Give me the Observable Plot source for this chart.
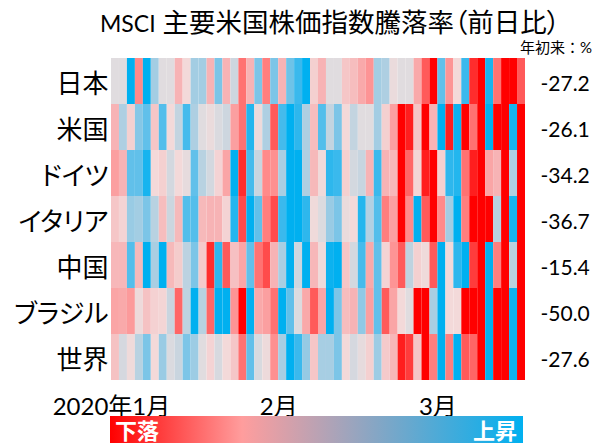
<!DOCTYPE html>
<html lang="ja">
<head>
<meta charset="utf-8">
<script src="https://cdn.jsdelivr.net/npm/d3@7"></script>
<script src="https://cdn.jsdelivr.net/npm/@observablehq/plot@0.6"></script>
<style>
  html, body { margin: 0; padding: 0; background: #fff; overflow: hidden; }
  body { width: 606px; height: 443px; font-family: Lato, "Noto Sans CJK JP", sans-serif; color: #000; }
  #title { height: 37px; line-height: 44px; font-size: 26.5px; padding-left: 100px; white-space: nowrap; font-feature-settings: "palt"; }
  #title .latin { font-size: 23px; }
  #note { height: 20px; line-height: 20px; font-size: 15px; text-align: right; padding-right: 14px; }
  #chart svg { display: block; overflow: visible; }
  .kana-labels { font-feature-settings: "palt"; }
  #legend { position: relative; margin-left: 110px; width: 413px; height: 27px; overflow: hidden;
    background: linear-gradient(90deg, #ff0000 0%, #ff9d9d 32%, #00b0f0 100%);
    color: #fff; font-weight: 700; font-size: 22px; line-height: 30px; display: flex; justify-content: space-between; padding: 0 6px 0 5px; box-sizing: border-box; }
</style>
</head>
<body>
<div id="title"><span class="latin">MSCI</span> 主要米国株価指数騰落率（前日比）</div>
<div id="note">年初来：%</div>
<div id="chart"></div>
<div id="legend"><span>下落</span><span>上昇</span></div>
<script>
// Rows top to bottom; values are estimated positions on the colour scale (-10 = full red, +10 = full blue)
const countries = ["日本", "米国", "ドイツ", "イタリア", "中国", "ブラジル", "世界"];
const ytd = ["-27.2", "-26.1", "-34.2", "-36.7", "-15.4", "-50.0", "-27.6"];
const monthTicks = [0, 21, 41];
const monthLabels = ["2020年1月", "2月", "3月"];

const japan = [0,0,10,-5,10,3,0,0,-3,-1,3,3,-3,5,-3,1,-6,-3,5,-5.5,5,-3,5.5,7.5,10,-1.5,-3,0,0,-2,-2.5,-3.5,-4.5,3,2.5,-0.5,0,0,-3.5,-7,-10,6,-4.5,-1,7.5,-8.5,-10,9,-6,-10,-10,-7];
const usa = [-3,2.5,-1.5,4.5,6,-2,6.5,-1,1.5,7,2.5,0,-0.5,0.3,1,-4,-6,8.5,-0.7,2.5,-7,7,10,8,2.5,-2.5,6.5,1.5,5,-1,1.5,0,0,3,-1.5,-4,-10,-9,-2,-10,-3,10,-9,9.5,-10,-6,-10,10,-10,-10,9,-10];
const germany = [-4,-3,6,6,9,-1,-1.5,0.7,-1,-0.3,6,2,0.7,-1.3,-3.7,10,-8.5,7,1.2,-5,-4.7,2.7,10,10,2.5,-2.7,-0.8,8,7.5,-1.5,0.7,1.3,-3,7.5,-3,-2.8,-10,-6.5,-1.2,-9,-10,-1.5,8,8.5,-6,-9,-10,-3.7,-3,-10,2.5,-10];
const italy = [-2,-1.3,3.5,3,5,2,-2.5,1.1,-2.7,6.5,6.5,-2.7,-3,-3,-1.3,8.5,-7.5,10,6,-5.5,-7.5,7.5,10,10,8,-0.8,0.2,3.5,5,-0.5,-1,8.5,2.3,6.5,-5.5,-4,-10,-5,10,-7,-10,-5,3,10,-5.5,-10,-10,-10,2,-10,9,-10];
const china = [-2.8,-2.8,6.5,-2.7,10,2.7,10,-2.7,-1.7,1.8,5,-1.8,-8.5,8,-7,-2.3,-3.7,6,-6,-7.5,-3,2.7,10,1,10,-2.8,-0.8,9.5,10,-2,0.7,7,-3.5,6,-1.3,-4.5,-7,1.7,-1.5,-0.8,-7,10,-1,8,10,-8,-10,10,-5.5,-10,2,-10];
const brazil = [-3.7,-3.5,-4.2,-0.7,-2.2,-1.4,-1.2,1.2,-6.5,1.7,10,2,-6.5,10,10,-4.5,-10,10,-3.5,-4,-6,10,6,0.2,-3.5,-7,-3.7,10,5,-2.5,-3,4,-4,6,-7,-3.7,-1,0,-10,-10,2.7,10,-1,-1,-10,-10,-10,10,-10,-10,9.5,-10];
const world = [-2.2,0.6,-0.8,2,5,-1,3.5,0.3,1.2,5,3.3,0,-1.3,0.5,-1,-2,-6,6,0.4,-0.7,-4.7,2.8,10,7.5,3.7,-2,2.8,2.8,5,-1,0.6,-0.3,-1.5,3.3,-1.8,-2.8,-9,-8,-2,-10,-5.5,10,-5.5,10,-7,-6.5,-10,10,-10,-10,9.5,-10];

const series = [japan, usa, germany, italy, china, brazil, world];
const cells = series.flatMap((vals, r) => vals.map((v, i) => ({country: countries[r], i, v})));

const font = 'Lato, "Noto Sans CJK JP", sans-serif';
const chart = Plot.plot({
  width: 606,
  height: 359,
  marginTop: 0,
  marginBottom: 35,
  marginLeft: 111,
  marginRight: 81,
  style: {fontFamily: font, background: "#fff", color: "#000"},
  x: {type: "band", domain: japan.map((_, i) => i), padding: 0, axis: null},
  y: {domain: countries, padding: 0, axis: null},
  color: {
    type: "linear",
    domain: [-10, -7, -5, -3, -1, 0, 1, 3, 5, 7, 10],
    range: ["#ff0000", "#ff5a5a", "#ff8a8a", "#f7b3b5", "#f3d9d9", "#e0dcdf", "#cdd6df", "#a3cde3", "#7cc5e7", "#45bbec", "#00b0f0"],
    clamp: true
  },
  marks: [
    Plot.cell(cells, {x: "i", y: "country", fill: "v"}),
    Plot.axisY({anchor: "left", tickSize: 0, tickPadding: 3, fontSize: 26, label: null, dy: 3, className: "kana-labels"}),
    Plot.axisY({anchor: "right", tickSize: 0, tickPadding: 15, fontSize: 21, label: null, dy: 3, tickFormat: (c) => ytd[countries.indexOf(c)]}),
    Plot.axisX({
      anchor: "bottom", ticks: monthTicks, tickSize: 0, tickPadding: 16, fontSize: 24, label: null, dx: -4,
      tickFormat: (i) => monthLabels[monthTicks.indexOf(i)]
    })
  ]
});
document.getElementById("chart").append(chart);
</script>
</body>
</html>
